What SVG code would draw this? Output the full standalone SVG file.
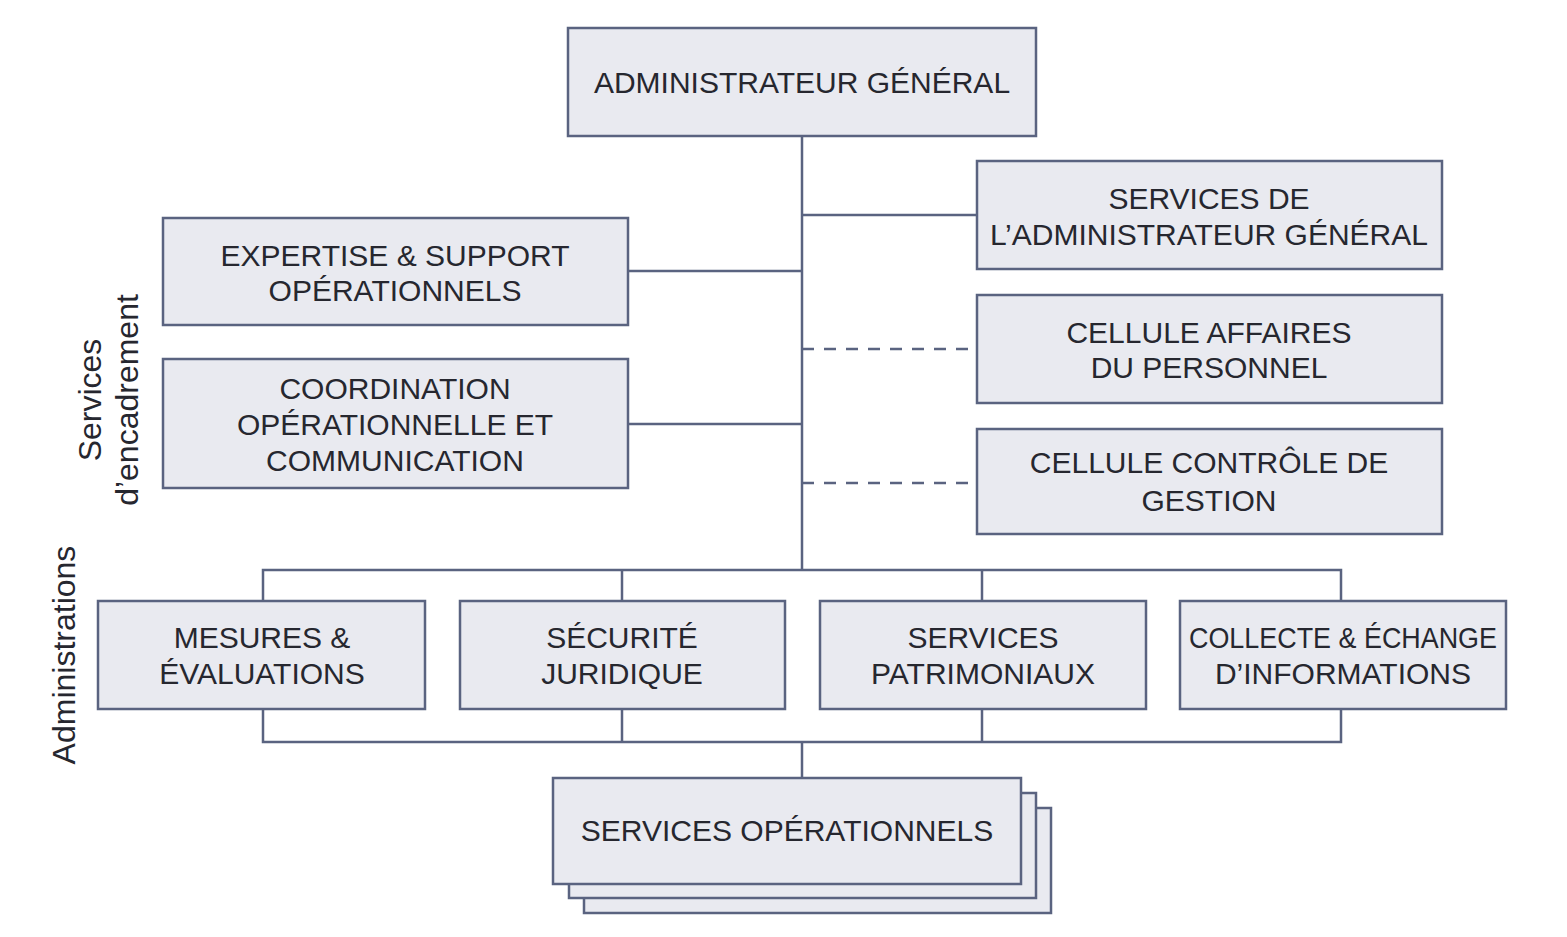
<svg xmlns="http://www.w3.org/2000/svg" width="1567" height="937" viewBox="0 0 1567 937">
<style>
.box{fill:#e9eaf0;stroke:#5a6380;stroke-width:2.5}
.t{font-family:"Liberation Sans",Arial,sans-serif;font-size:30px;fill:#26272f;text-anchor:middle}
.s{font-family:"Liberation Sans",Arial,sans-serif;font-size:32px;fill:#26272f;text-anchor:middle}
.ln{fill:none;stroke:#5a6380;stroke-width:2.5}
.dash{fill:none;stroke:#5a6380;stroke-width:2.5;stroke-dasharray:12,10}
</style>
<rect width="1567" height="937" fill="#ffffff"/>
<g id="connectors">
<path class="ln" d="M802 136V570"/>
<path class="ln" d="M802 215H977"/>
<path class="ln" d="M628 271H802"/>
<path class="ln" d="M628 424H802"/>
<path class="dash" d="M802 349H977"/>
<path class="dash" d="M802 483H977"/>
<path class="ln" d="M263 601V570H1341V601"/>
<path class="ln" d="M622 570V601"/>
<path class="ln" d="M982 570V601"/>
<path class="ln" d="M263 709V742H1341V709"/>
<path class="ln" d="M622 709V742"/>
<path class="ln" d="M982 709V742"/>
<path class="ln" d="M802 742V778"/>
</g>
<g id="admin-general">
<rect class="box" x="568" y="28" width="468" height="108"/>
<text class="t" x="802" y="93">ADMINISTRATEUR GÉNÉRAL</text>
</g>
<g id="services-ag">
<rect class="box" x="977" y="161" width="465" height="108"/>
<text class="t" x="1209" y="209">SERVICES DE</text>
<text class="t" x="1209" y="245">L’ADMINISTRATEUR GÉNÉRAL</text>
</g>
<g id="expertise">
<rect class="box" x="163" y="218" width="465" height="107"/>
<text class="t" x="395" y="266">EXPERTISE &amp; SUPPORT</text>
<text class="t" x="395" y="301">OPÉRATIONNELS</text>
</g>
<g id="cellule-affaires">
<rect class="box" x="977" y="295" width="465" height="108"/>
<text class="t" x="1209" y="343">CELLULE AFFAIRES</text>
<text class="t" x="1209" y="378">DU PERSONNEL</text>
</g>
<g id="coordination">
<rect class="box" x="163" y="359" width="465" height="129"/>
<text class="t" x="395" y="399">COORDINATION</text>
<text class="t" x="395" y="435">OPÉRATIONNELLE ET</text>
<text class="t" x="395" y="471">COMMUNICATION</text>
</g>
<g id="cellule-controle">
<rect class="box" x="977" y="429" width="465" height="105"/>
<text class="t" x="1209" y="473">CELLULE CONTRÔLE DE</text>
<text class="t" x="1209" y="511">GESTION</text>
</g>
<g id="mesures">
<rect class="box" x="98" y="601" width="327" height="108"/>
<text class="t" x="262" y="648">MESURES &amp;</text>
<text class="t" x="262" y="684">ÉVALUATIONS</text>
</g>
<g id="securite">
<rect class="box" x="460" y="601" width="325" height="108"/>
<text class="t" x="622" y="648">SÉCURITÉ</text>
<text class="t" x="622" y="684">JURIDIQUE</text>
</g>
<g id="patrimoniaux">
<rect class="box" x="820" y="601" width="326" height="108"/>
<text class="t" x="983" y="648">SERVICES</text>
<text class="t" x="983" y="684">PATRIMONIAUX</text>
</g>
<g id="collecte">
<rect class="box" x="1180" y="601" width="326" height="108"/>
<text class="t" x="1343" y="648" textLength="308" lengthAdjust="spacingAndGlyphs">COLLECTE &amp; ÉCHANGE</text>
<text class="t" x="1343" y="684">D’INFORMATIONS</text>
</g>
<g id="services-operationnels">
<rect class="box" x="584" y="808" width="467" height="105"/>
<rect class="box" x="569" y="793" width="467" height="105"/>
<rect class="box" x="553" y="778" width="468" height="106"/>
<text class="t" x="787" y="841">SERVICES OPÉRATIONNELS</text>
</g>
<g id="labels">
<text class="s" transform="translate(101,400) rotate(-90)">Services</text>
<text class="s" transform="translate(138,400) rotate(-90)">d’encadrement</text>
<text class="s" transform="translate(75,655) rotate(-90)">Administrations</text>
</g>
</svg>
